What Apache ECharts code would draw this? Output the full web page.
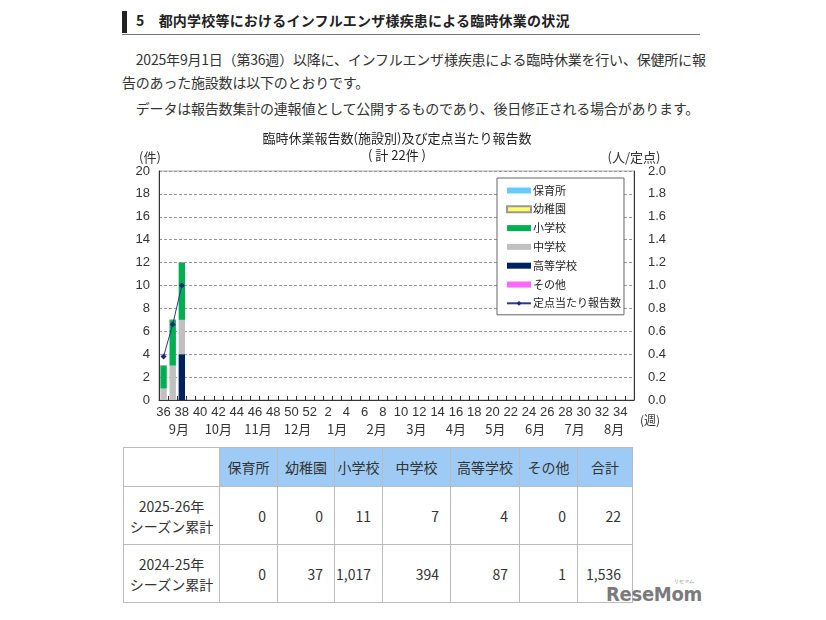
<!DOCTYPE html>
<html lang="ja">
<head>
<meta charset="utf-8">
<script src="https://cdn.jsdelivr.net/npm/echarts@6/dist/echarts.min.js"></script>
<style>
  html, body { margin:0; padding:0; background:#fff; }
  body { width:826px; height:620px; position:relative; overflow:hidden;
         font-family:"Noto Sans CJK JP","Noto Sans",sans-serif; color:#333; }
  .h { position:absolute; left:122px; top:9px; width:578px; height:25px;
       border-bottom:1px solid #777; }
  .h .bar { position:absolute; left:0; top:2px; width:5px; height:22px; background:#222; }
  .h .t { position:absolute; left:14px; top:1px; font-size:14px; font-weight:bold; color:#222; letter-spacing:0.2px; }
  .p { position:absolute; left:122px; font-size:14px; color:#333; white-space:nowrap; letter-spacing:-0.2px; }
  #chart { position:absolute; left:0; top:115px; width:794px; height:330px; }
  table { position:absolute; left:123px; top:447px; border-collapse:collapse; font-size:14px; color:#333; }
  td, th { border:1px solid #bbb; padding:0; font-weight:normal; }
  th { background:#9ecbf5; height:38px; text-align:center; }
  td { height:57px; text-align:right; padding-right:11px; }
  td.lab { text-align:center; padding:0; line-height:20px; }
  .wm { position:absolute; left:606px; top:582px; font-family:"DejaVu Sans Condensed","DejaVu Sans",sans-serif; font-weight:bold;
        font-size:20px; color:#7b7b7b; letter-spacing:-0.3px; }
  .wm small { position:absolute; left:68px; top:-4px; font-size:5px; font-weight:normal; letter-spacing:0; }
</style>
</head>
<body>
<div class="h"><div class="bar"></div><div class="t">5　都内学校等におけるインフルエンザ様疾患による臨時休業の状況</div></div>
<div class="p" style="top:49px;">　2025年9月1日（第36週）以降に、インフルエンザ様疾患による臨時休業を行い、保健所に報</div>
<div class="p" style="top:72px;">告のあった施設数は以下のとおりです。</div>
<div class="p" style="top:98px;">　データは報告数集計の連報値として公開するものであり、後日修正される場合があります。</div>
<div id="chart"></div>
<table id="tbl"></table>
<div class="wm">ReseMom<small>リセマム</small></div>
<script>
// ---- data ----
const weeks = ['36','37','38','39','40','41','42','43','44','45','46','47','48','49','50','51','52',
  '1','2','3','4','5','6','7','8','9','10','11','12','13','14','15','16','17','18','19','20',
  '21','22','23','24','25','26','27','28','29','30','31','32','33','34','35'];
const months = ['9月','10月','11月','12月','1月','2月','3月','4月','5月','6月','7月','8月'];
const hoikusho = [0, 0, 0];
const youchien = [0, 0, 0];
const shogakko = [2, 4, 5];
const chugakko = [1, 3, 3];
const kotogakko = [0, 0, 4];
const sonota = [0, 0, 0];
const teiten = [0.38, 0.66, 1.00];
const leftTicks = [0, 20, 2];
const rightTicks = [0, 2, 0.2];
// table
const tableHeads = ['保育所','幼稚園','小学校','中学校','高等学校','その他','合計'];
const rowLabels = ['2025-26年<br>シーズン累計','2024-25年<br>シーズン累計'];
const row2025 = ['0','0','11','7','4','0','22'];
const row2024 = ['0','37','1,017','394','87','1','1,536'];
const colWidths = [96, 58, 57, 48, 68, 69, 58, 55];

// ---- table ----
(function(){
  const t = document.getElementById('tbl');
  let h = '<tr><th style="background:#fff;width:'+(colWidths[0]-1)+'px"></th>';
  tableHeads.forEach((s,i)=>{ h += '<th style="width:'+(colWidths[i+1]-1)+'px">'+s+'</th>'; });
  h += '</tr>';
  [row2025, row2024].forEach((r,k)=>{
    h += '<tr><td class="lab">'+rowLabels[k]+'</td>';
    r.forEach(v=>{ h += '<td>'+v+'</td>'; });
    h += '</tr>';
  });
  t.innerHTML = h;
})();

// ---- chart ----
const FONT = '"Liberation Sans","Noto Sans CJK JP",sans-serif';
const JP = '"Noto Sans CJK JP","Noto Sans",sans-serif';
const chart = echarts.init(document.getElementById('chart'), null, {renderer:'canvas'});
const colors = {
  '保育所':'#66ccff','幼稚園':'#ffff66','小学校':'#00b050','中学校':'#c0c0c0','高等学校':'#002060','その他':'#ff66ff'
};
function bar(name, data){
  return { name, type:'bar', stack:'a', data, barWidth:'70%',
    itemStyle:{ color: colors[name], borderColor: name==='幼稚園' ? '#999' : null, borderWidth: name==='幼稚園'?0.5:0 },
    emphasis:{disabled:true} };
}
chart.setOption({
  animation:false,
  title:{ text:'臨時休業報告数(施設別)及び定点当たり報告数\n( 計 22件 )', left:'center', top:10,
    textStyle:{ fontSize:13, fontWeight:'normal', color:'#222', fontFamily:JP, lineHeight:17, align:'center' } },
  legend:{
    orient:'vertical', left:497, top:63, backgroundColor:'#fff', borderColor:'#666', borderWidth:1,
    padding:[7,3,6,9], itemWidth:24, itemHeight:6, itemGap:7.8,
    textStyle:{ fontSize:11, color:'#222', fontFamily:JP, padding:[0,0,0,-3] },
    data:[
      {name:'保育所', icon:'rect'},{name:'幼稚園', icon:'rect'},{name:'小学校', icon:'rect'},
      {name:'中学校', icon:'rect'},{name:'高等学校', icon:'rect'},{name:'その他', icon:'rect'},
      {name:'定点当たり報告数'}
    ]
  },
  grid:{ left:159, top:56, right:160, height:229, show:true, borderColor:'#aaa', borderWidth:1 },
  xAxis:[
    { type:'category', data:weeks, boundaryGap:true,
      name:'\n\n(週)', nameLocation:'end', nameGap:6, nameMoveOverlap:false,
      nameTextStyle:{ fontSize:12, color:'#333', fontFamily:JP, lineHeight:20 },
      axisLine:{ lineStyle:{ color:'#333' } },
      axisTick:{ show:true, inside:true, interval:0, length:4, lineStyle:{color:'#333'} },
      axisLabel:{ interval:(i)=> i % 2 === 0, fontSize:13, color:'#333', fontFamily:FONT, margin:6 } },
    { type:'category', data:months, position:'bottom', offset:17, boundaryGap:true,
      axisLine:{ show:false }, axisTick:{ show:false },
      axisLabel:{ interval:0, fontSize:13, color:'#333', fontFamily:JP, margin:6 } }
  ],
  yAxis:[
    { type:'value', min:leftTicks[0], max:leftTicks[1], interval:leftTicks[2],
      name:'(件)', nameLocation:'end', nameGap:7,
      nameTextStyle:{ fontSize:13, color:'#333', fontFamily:JP, padding:[0,18,0,0] },
      axisLine:{ show:true, lineStyle:{ color:'#333' } }, axisTick:{ show:false },
      axisLabel:{ fontSize:13, color:'#333', fontFamily:FONT, margin:9 },
      splitLine:{ show:true, lineStyle:{ color:'#999', type:[3,2], width:1 } } },
    { type:'value', min:rightTicks[0], max:rightTicks[1], interval:rightTicks[2], position:'right',
      name:'(人/定点)', nameLocation:'end', nameGap:7,
      nameTextStyle:{ fontSize:13, color:'#333', fontFamily:JP, padding:[0,0,0,0] },
      axisLine:{ show:true, lineStyle:{ color:'#333' } }, axisTick:{ show:false },
      axisLabel:{ fontSize:13, color:'#333', fontFamily:FONT, margin:14, formatter:(v)=>v.toFixed(1) },
      splitLine:{ show:false } }
  ],
  series:[
    bar('高等学校', kotogakko),
    bar('中学校', chugakko),
    bar('小学校', shogakko),
    bar('保育所', hoikusho),
    bar('幼稚園', youchien),
    bar('その他', sonota),
    { name:'定点当たり報告数', type:'line', yAxisIndex:1, data:teiten,
      symbol:'diamond', symbolSize:6, lineStyle:{ color:'#2a3a8c', width:1 },
      itemStyle:{ color:'#1c2a78' }, emphasis:{disabled:true}, z:5 }
  ]
});
</script>
</body>
</html>
